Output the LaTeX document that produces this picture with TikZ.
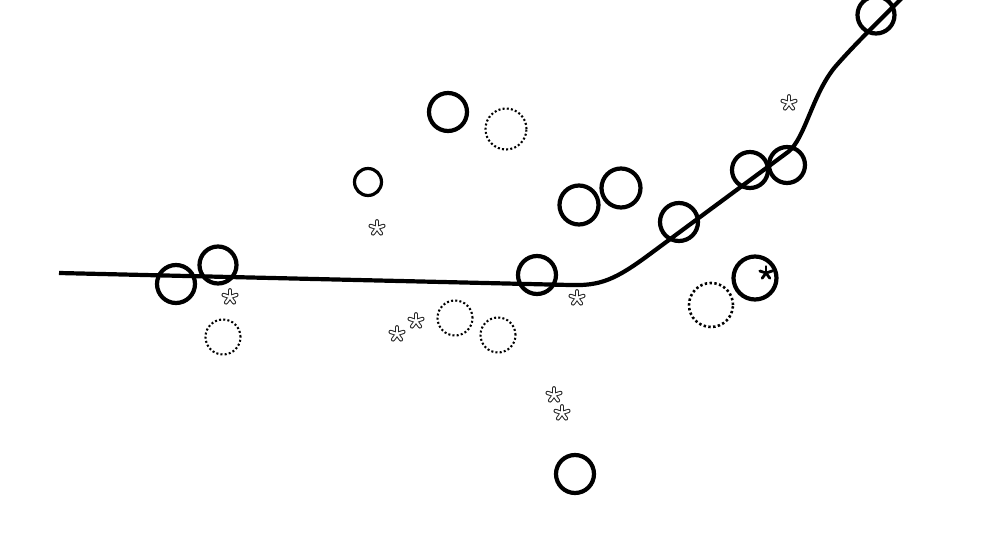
\documentclass[tikz,border=0pt]{standalone}
\begin{document}
\begin{tikzpicture}[x=1pt,y=-1pt,
  ring/.style={circle,draw=black,line width=4.2pt,inner sep=0pt,minimum size=#1},
  thinring/.style={circle,draw=black,line width=3.2pt,inner sep=0pt,minimum size=#1},
  dotring/.style={circle,draw=black,line width=2.1pt,dash pattern=on 2pt off 2.2pt,inner sep=0pt,minimum size=#1},
  dotringb/.style={circle,draw=black,line width=2.6pt,dash pattern=on 2.4pt off 2.4pt,inner sep=0pt,minimum size=#1},
  track/.style={line width=4.2pt,line cap=butt},
  openstar/.pic={
    \foreach \a in {-90,-18,54,126,198}
      \draw[line width=4.2pt,line cap=round,black!85] (0,0) -- (\a:6.8);
    \foreach \a in {-90,-18,54,126,198}
      \draw[line width=2.2pt,line cap=round,white] (0,0) -- (\a:6.8);
  },
  solidstar/.pic={
    \foreach \a in {-90,-18,54,126,198}
      \draw[line width=2.8pt,line cap=round,black] (0,0) -- (\a:6.5);
  }]
\useasboundingbox (0,0) rectangle (988,540);

% track
\coordinate (s) at (59,273);
\coordinate (e) at (905,-5);
\draw[track] (s) -- (570,285) .. controls (600,286) and (615,280) .. (650,254)
  -- (788,152) .. controls (805,139) and (812,95) .. (835,67)
  .. controls (855,44) and (878,22) .. (e);

% solid rings
\node[ring=38pt] (c1) at (176,284) {};
\node[ring=37pt] (c2) at (218,265) {};
\node[ring=38pt] (c3) at (448,112) {};
\node[thinring=27pt] (c4) at (368,182) {};
\node[ring=39pt] (c5) at (579,205) {};
\node[ring=39pt] (c6) at (621,188) {};
\node[ring=38pt] (c7) at (537,275) {};
\node[ring=38pt] (c8) at (679,222) {};
\node[ring=36pt] (c9) at (750,170) {};
\node[ring=36pt] (c10) at (787,165) {};
\node[ring=43pt] (c11) at (755,278) {};
\node[ring=37pt] (c12) at (876,15) {};
\node[ring=38pt] (c13) at (575,474) {};

% dotted rings
\node[dotring=41pt] (d1) at (506,129) {};
\node[dotring=35pt] (d2) at (223,337) {};
\node[dotring=35pt] (d3) at (455,318) {};
\node[dotring=35pt] (d4) at (498,335) {};
\node[dotringb=44pt] (d5) at (711,305) {};

% asterisks
\pic at (377,228) {openstar};
\pic at (230,297) {openstar};
\pic at (416,321) {openstar};
\pic at (397,334) {openstar};
\pic at (577,298) {openstar};
\pic at (554,395) {openstar};
\pic at (562,413) {openstar};
\pic at (789,103) {openstar};
\pic at (766,273) {solidstar};
\end{tikzpicture}
\end{document}
